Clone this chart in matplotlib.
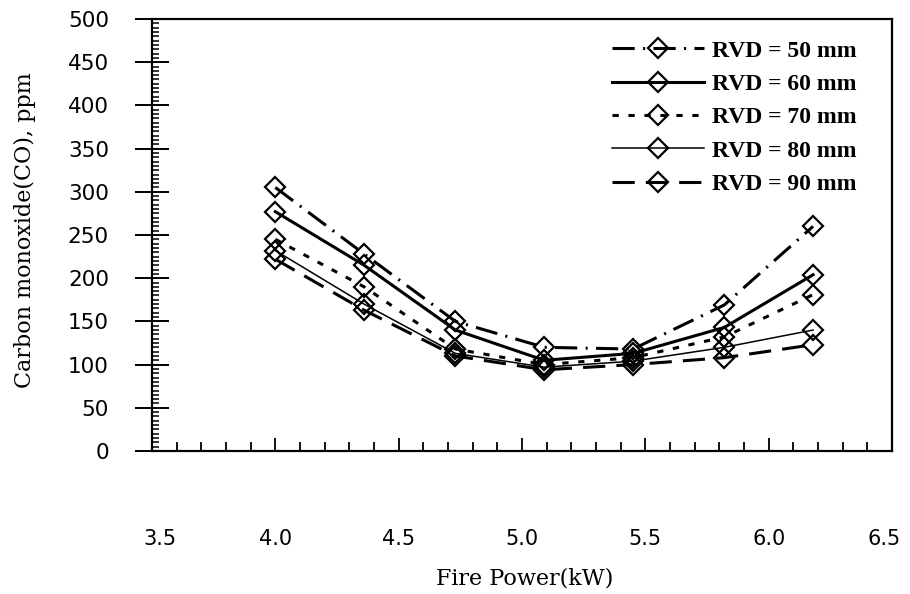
import matplotlib
matplotlib.use("Agg")
import matplotlib.pyplot as plt
from matplotlib.ticker import MultipleLocator, FormatStrFormatter
from matplotlib.transforms import ScaledTranslation

# Fire power (kW) and CO concentration (ppm) for each riser vertical distance
fire_power = [4.00, 4.36, 4.73, 5.09, 5.45, 5.82, 6.18]
co_rvd50 = [305, 228, 150, 120, 118, 169, 260]
co_rvd60 = [277, 215, 140, 105, 113, 143, 204]
co_rvd70 = [245, 190, 118, 100, 108, 132, 181]
co_rvd80 = [232, 170, 113, 97, 104, 120, 140]
co_rvd90 = [222, 163, 110, 94, 100, 108, 123]
series_labels = ["RVD = 50 mm", "RVD = 60 mm", "RVD = 70 mm",
                 "RVD = 80 mm", "RVD = 90 mm"]

plt.rcParams["lines.scale_dashes"] = False

W, H = 910, 594
fig = plt.figure(figsize=(W / 100, H / 100), dpi=100)
fig.patch.set_facecolor("white")
ax = fig.add_axes([152 / W, 1 - 451 / H, (892 - 152) / W, (451 - 19) / H])

styles = [
    dict(ls=(0, (16, 6, 1.5, 6)), lw=2.2),   # 50 mm: long dash-dot
    dict(ls="-", lw=2.2),                    # 60 mm: heavy solid
    dict(ls=(0, (4.5, 7)), lw=2.2),          # 70 mm: short dashes
    dict(ls="-", lw=1.1),                    # 80 mm: thin solid
    dict(ls=(0, (16, 8)), lw=2.2),           # 90 mm: long dashes
]
all_series = [co_rvd50, co_rvd60, co_rvd70, co_rvd80, co_rvd90]

handles = []
for vals, lab, st in zip(all_series, series_labels, styles):
    h, = ax.plot(fire_power, vals, color="black", linestyle=st["ls"],
                 linewidth=st["lw"], marker="D", markersize=10,
                 markerfacecolor="none", markeredgecolor="black",
                 markeredgewidth=1.6, label=lab)
    handles.append(h)

ax.set_xlim(3.5, 6.5)
ax.set_ylim(0, 500)

for side in ["left", "right", "top", "bottom"]:
    ax.spines[side].set_linewidth(1.6)
    ax.spines[side].set_color("black")

ax.xaxis.set_major_locator(MultipleLocator(0.5))
ax.xaxis.set_minor_locator(MultipleLocator(0.1))
ax.xaxis.set_major_formatter(FormatStrFormatter("%.1f"))
ax.yaxis.set_major_locator(MultipleLocator(50))
ax.yaxis.set_minor_locator(MultipleLocator(5))

ax.tick_params(axis="x", which="major", direction="in", length=9.5,
               width=1.3, pad=56, labelsize=15, top=False)
ax.tick_params(axis="x", which="minor", direction="in", length=6.5,
               width=1.3, top=False)
ax.tick_params(axis="y", which="major", direction="inout", length=24,
               width=1.4, pad=19, labelsize=15.5, right=False)
ax.tick_params(axis="y", which="minor", direction="in", length=5,
               width=1.1, right=False)

fig.canvas.draw()
for lbl in ax.get_xticklabels() + ax.get_yticklabels():
    lbl.set_fontfamily("DejaVu Sans")
# pull the two end labels of the x axis slightly inward
x_lo, x_hi = ax.get_xlim()
for tick in ax.xaxis.get_major_ticks():
    loc = tick.get_loc()
    if abs(loc - x_lo) < 1e-6:
        shift = 8
    elif abs(loc - x_hi) < 1e-6:
        shift = -8
    else:
        continue
    tick.label1.set_transform(tick.label1.get_transform() +
                              ScaledTranslation(shift / 100, 0,
                                                fig.dpi_scale_trans))

fig.text(525 / W, 1 - 578 / H, "Fire Power(kW)", family="DejaVu Serif",
         fontsize=16, ha="center", va="center")
fig.text(25 / W, 1 - 230 / H, "Carbon monoxide(CO), ppm",
         family="DejaVu Serif", fontsize=16, rotation=90,
         ha="center", va="center")

leg = ax.legend(handles=handles, loc="upper left",
                bbox_to_anchor=(612 / W, 1 - 40 / H),
                bbox_transform=fig.transFigure, frameon=False,
                numpoints=1, handlelength=3.9, handletextpad=0.35,
                labelspacing=0.5, borderpad=0, borderaxespad=0,
                prop=dict(family="Liberation Serif", weight="bold", size=17))

fig.savefig("out.png", dpi=100, facecolor="white")
